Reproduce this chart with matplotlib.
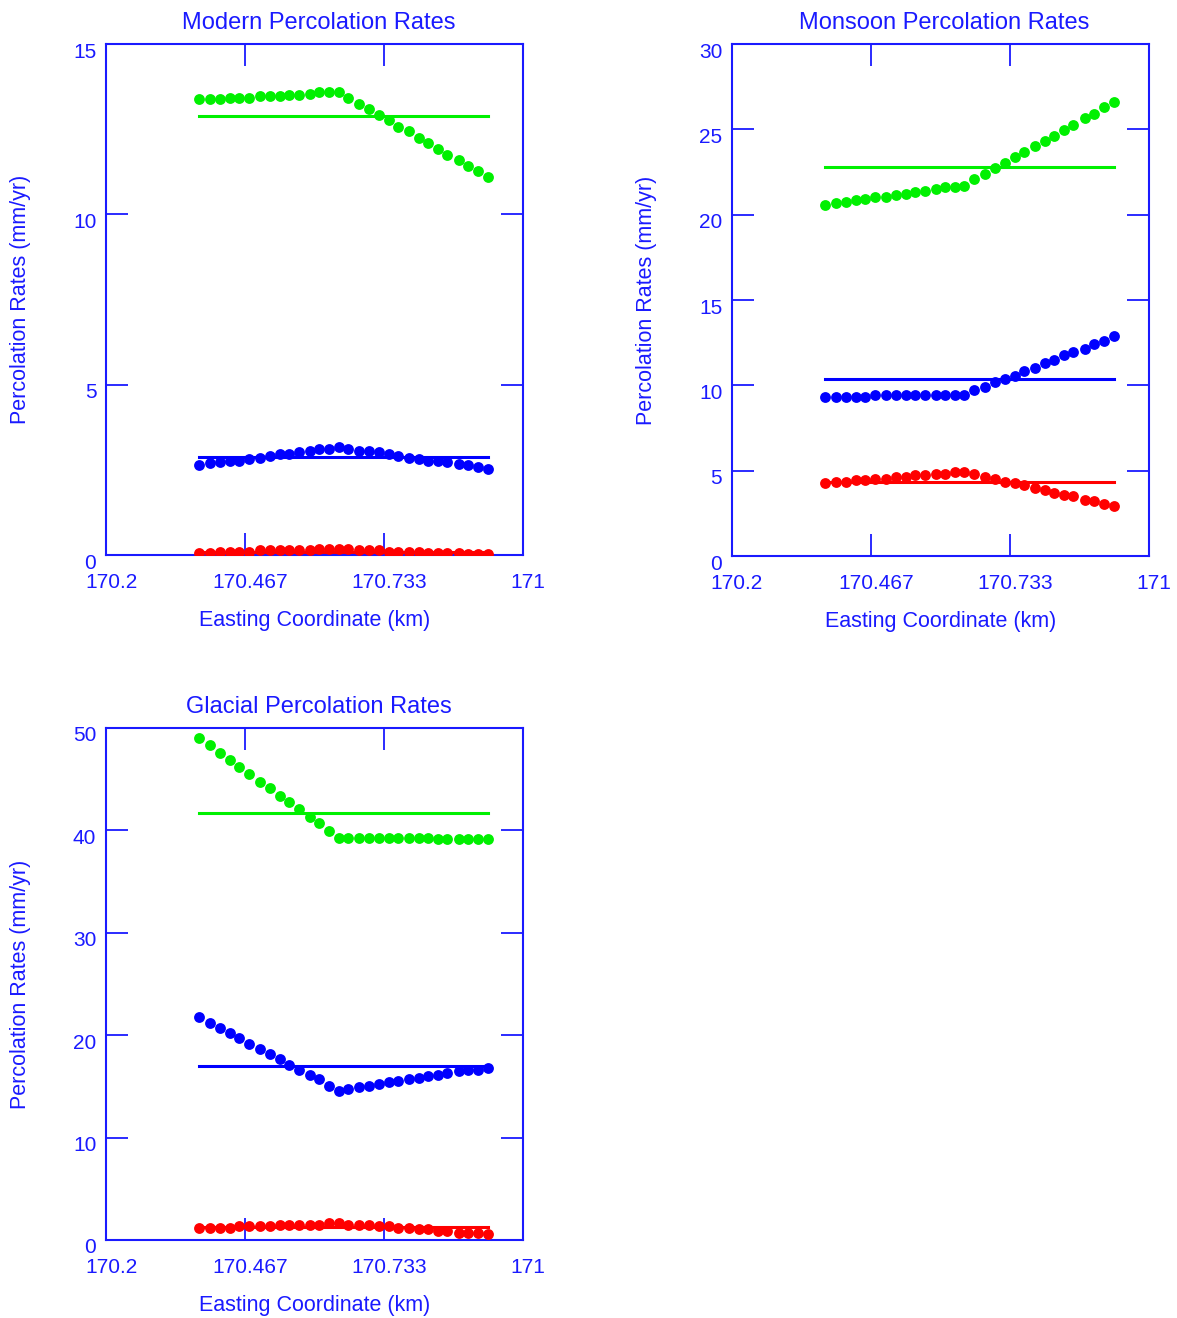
import matplotlib
matplotlib.use('Agg')
import matplotlib.pyplot as plt
import matplotlib.transforms as mtransforms

plt.rcParams['font.family'] = ['Liberation Sans Narrow', 'Liberation Sans', 'DejaVu Sans']

# easting coordinate of the sample points (km)
easting = [170.378, 170.400, 170.419, 170.437, 170.456, 170.474, 170.495, 170.514,
           170.533, 170.551, 170.570, 170.591, 170.609, 170.628, 170.646, 170.664,
           170.686, 170.705, 170.723, 170.742, 170.760, 170.781, 170.800, 170.818,
           170.837, 170.855, 170.877, 170.895, 170.913, 170.932]

# Modern
modern_green = [13.38, 13.38, 13.38, 13.42, 13.42, 13.42, 13.46, 13.46, 13.46, 13.51,
                13.51, 13.54, 13.58, 13.58, 13.58, 13.41, 13.24, 13.09, 12.91, 12.77,
                12.57, 12.44, 12.25, 12.10, 11.92, 11.73, 11.60, 11.41, 11.26, 11.09]
modern_blue = [2.63, 2.70, 2.73, 2.77, 2.77, 2.82, 2.86, 2.91, 2.96, 2.96,
               3.01, 3.06, 3.11, 3.11, 3.16, 3.11, 3.06, 3.06, 3.01, 2.96,
               2.91, 2.86, 2.82, 2.77, 2.77, 2.73, 2.68, 2.63, 2.58, 2.53]
modern_red = [0.06, 0.06, 0.10, 0.10, 0.10, 0.10, 0.15, 0.15, 0.15, 0.15,
              0.15, 0.15, 0.19, 0.19, 0.19, 0.19, 0.15, 0.15, 0.15, 0.10,
              0.10, 0.10, 0.10, 0.06, 0.06, 0.06, 0.06, 0.03, 0.03, 0.03]
modern_means = [12.89, 2.89, 0.10]

# Monsoon
monsoon_green = [20.56, 20.66, 20.74, 20.84, 20.93, 21.03, 21.03, 21.13, 21.22, 21.32,
                 21.40, 21.50, 21.60, 21.60, 21.69, 22.07, 22.36, 22.73, 23.01, 23.37,
                 23.67, 24.04, 24.31, 24.60, 24.97, 25.25, 25.64, 25.91, 26.29, 26.58]
monsoon_blue = [9.31, 9.31, 9.31, 9.31, 9.31, 9.41, 9.41, 9.41, 9.41, 9.41,
                9.41, 9.41, 9.41, 9.41, 9.41, 9.71, 9.88, 10.17, 10.35, 10.54,
                10.84, 11.01, 11.31, 11.48, 11.78, 11.95, 12.14, 12.42, 12.61, 12.89]
monsoon_red = [4.26, 4.34, 4.34, 4.43, 4.43, 4.53, 4.53, 4.63, 4.63, 4.73,
               4.73, 4.82, 4.82, 4.90, 4.90, 4.82, 4.63, 4.53, 4.34, 4.26,
               4.16, 3.97, 3.87, 3.69, 3.59, 3.50, 3.30, 3.22, 3.03, 2.93]
monsoon_means = [22.79, 10.39, 4.32]

# Glacial
glacial_green = [48.98, 48.30, 47.55, 46.89, 46.15, 45.53, 44.75, 44.13, 43.32, 42.73,
                 42.05, 41.27, 40.68, 39.90, 39.25, 39.25, 39.25, 39.25, 39.25, 39.25,
                 39.25, 39.25, 39.25, 39.25, 39.12, 39.12, 39.12, 39.12, 39.12, 39.12]
glacial_blue = [21.78, 21.17, 20.71, 20.22, 19.76, 19.11, 18.66, 18.20, 17.71, 17.10,
                16.64, 16.15, 15.70, 15.08, 14.59, 14.76, 14.92, 15.08, 15.24, 15.41,
                15.54, 15.70, 15.86, 15.99, 16.15, 16.32, 16.48, 16.64, 16.64, 16.80]
glacial_red = [1.19, 1.19, 1.19, 1.19, 1.35, 1.35, 1.35, 1.35, 1.51, 1.51,
               1.51, 1.51, 1.51, 1.68, 1.68, 1.51, 1.51, 1.51, 1.35, 1.35,
               1.19, 1.19, 1.03, 1.03, 0.87, 0.87, 0.70, 0.70, 0.70, 0.54]
glacial_means = [41.72, 17.03, 1.29]

xticks = [170.2, 170.467, 170.733, 171.0]
xticklabels = ['170.2', '170.467', '170.733', '171']

TXT = '#1a1aff'
colors = ['#00f000', '#0000ff', '#ff0000']

fig = plt.figure(figsize=(11.77, 13.18), dpi=100)

panels = [
    ('Modern Percolation Rates', [0.0901, 0.5789, 0.3543, 0.3877],
     [modern_green, modern_blue, modern_red], modern_means, 15, 5),
    ('Monsoon Percolation Rates', [0.6219, 0.5781, 0.3543, 0.3885],
     [monsoon_green, monsoon_blue, monsoon_red], monsoon_means, 30, 5),
    ('Glacial Percolation Rates', [0.0901, 0.0592, 0.3543, 0.3885],
     [glacial_green, glacial_blue, glacial_red], glacial_means, 50, 10),
]

for title, rect, series, means, ymax, ystep in panels:
    ax = fig.add_axes(rect)
    for vals, m, c in zip(series, means, colors):
        ax.plot([easting[0], easting[-1]], [m, m], color=c, lw=2.2, zorder=2)
        ax.plot(easting, vals, 'o', color=c, ms=7.8, mec='none', zorder=3)
    ax.set_xlim(170.2, 171.0)
    ax.set_ylim(0, ymax)
    ax.set_xticks(xticks)
    ax.set_xticklabels(xticklabels)
    ax.set_yticks(list(range(0, ymax + 1, ystep)))
    ax.tick_params(direction='in', length=16, width=1.3, colors=TXT,
                   top=True, right=True, labelsize=15)
    ax.tick_params(axis='x', pad=13)
    ax.tick_params(axis='y', pad=7)
    for s in ax.spines.values():
        s.set_color(TXT)
        s.set_linewidth(1.5)
    off_y = mtransforms.ScaledTranslation(0, -6 / 100, fig.dpi_scale_trans)
    for lab in ax.get_yticklabels():
        lab.set_transform(lab.get_transform() + off_y)
    off_x = mtransforms.ScaledTranslation(5 / 100, 0, fig.dpi_scale_trans)
    for lab in ax.get_xticklabels():
        lab.set_transform(lab.get_transform() + off_x)
    ax.set_title(title, color=TXT, fontsize=17, pad=11, x=0.51)
    ax.set_xlabel('Easting Coordinate (km)', color=TXT, fontsize=15.5, labelpad=13)
    ax.set_ylabel('Percolation Rates (mm/yr)', color=TXT, fontsize=15.5, labelpad=30)

fig.savefig('out.png', dpi=100)
